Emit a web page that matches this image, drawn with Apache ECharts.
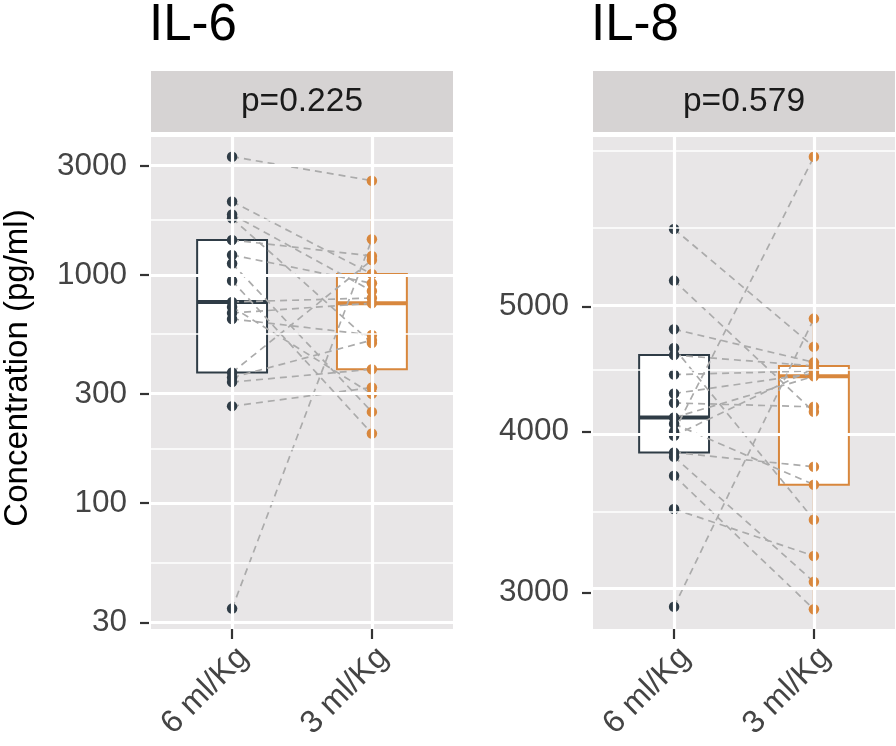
<!DOCTYPE html>
<html><head><meta charset="utf-8">
<script src="https://cdn.jsdelivr.net/npm/echarts@6/dist/echarts.min.js"></script>
<style>html,body{margin:0;padding:0;background:#fff}#c{width:896px;height:746px}</style>
</head><body><div id="c"></div>
<script>
// ---- data ----
const groups = ['6 ml/Kg', '3 ml/Kg'];
const panelTitles = ['IL-6', 'IL-8'];
const pLabels = ['p=0.225', 'p=0.579'];
const il6Ticks = [30, 100, 300, 1000, 3000];
const il8Ticks = [3000, 4000, 5000];
// values paired by patient (index i in both arrays = same patient)
const il6_6 = [3296, 2097, 34.5, 266, 1840, 1770, 1422, 1222, 1122, 943, 761, 723, 681, 641, 373.5, 355, 339];
const il6_3 = [2587, 1009, 1432, 321, 850, 503, 1210, 919, 251, 202, 792, 301, 751, 545, 1162, 518, 386];
const il8_6 = [5744, 5238, 2924, 3998, 4802, 4643, 4585, 4428, 4281, 4209, 4101, 4055, 3969, 3853, 3823, 3696, 3482];
const il8_3 = [4653, 4143, 4894, 6536, 4526, 3416, 4497, 4457, 4437, 4180, 4414, 3637, 4477, 3755, 3057, 2911, 3202];

// ---- layout / style ----
const FONT = 'Liberation Sans, Arial, Helvetica, sans-serif';
const COLORS = ['#2F3C46', '#D8873D'];
const PANEL_BG = '#E8E6E7';
const STRIP_BG = '#D6D3D3';
const LOG = Math.log10;
const panels = [
  {v6: il6_6, v3: il6_3, ticks: il6Ticks, range: [28.08, 4020], left: 151},
  {v6: il8_6, v3: il8_3, ticks: il8Ticks, range: [2810, 6771], left: 593}
];
const GTOP = 137, GH = 492, GW = 302;

function boxStats(vals) {
  const a = vals.map(LOG).sort((p, q) => p - q);
  const qt = p => { const h = (a.length - 1) * p; const i = Math.floor(h); const f = h - i;
    return f ? a[i] + f * (a[i + 1] - a[i]) : a[i]; };
  const q1 = qt(0.25), md = qt(0.5), q3 = qt(0.75), iqr = q3 - q1;
  const lo = Math.min(...a.filter(v => v >= q1 - 1.5 * iqr));
  const hi = Math.max(...a.filter(v => v <= q3 + 1.5 * iqr));
  return [lo, q1, md, q3, hi];
}
function gridBreaks(ticks, range) {
  const b = ticks.map(LOG); const bd = b[1] - b[0];
  const lo = LOG(range[0]), hi = LOG(range[1]);
  const ext = b.slice();
  if (lo < b[0]) ext.unshift(b[0] - bd);
  if (hi > b[b.length - 1]) ext.push(b[b.length - 1] + bd);
  const minor = [];
  for (let i = 0; i < ext.length - 1; i++) minor.push((ext[i] + ext[i + 1]) / 2);
  ext.forEach(v => { if (!b.some(x => Math.abs(x - v) < 1e-9)) minor.push(v); });
  return {major: b, minor: minor.filter(v => v > lo && v < hi)};
}

const grid = [], xAxis = [], yAxis = [], series = [], graphic = [];
panels.forEach((p, i) => {
  grid.push({left: p.left, top: GTOP, width: GW, height: GH, show: true, backgroundColor: PANEL_BG, borderWidth: 0});
  xAxis.push({type: 'value', gridIndex: i, min: 0.42, max: 2.58,
    axisLine: {show: false}, splitLine: {show: false},
    axisTick: {show: true, customValues: [1, 2], length: 10, lineStyle: {color: '#333', width: 2.2}},
    axisLabel: {customValues: [1, 2], formatter: v => groups[Math.round(v) - 1], rotate: 45,
      verticalAlign: 'top', fontSize: 32, color: '#444444', margin: 12, fontFamily: FONT}});
  const tv = p.ticks.map(LOG);
  yAxis.push({type: 'value', gridIndex: i, min: LOG(p.range[0]), max: LOG(p.range[1]), offset: 2,
    axisLine: {show: false}, splitLine: {show: false},
    axisTick: {show: true, customValues: tv, length: 9, lineStyle: {color: '#333', width: 2.2}},
    axisLabel: {customValues: tv, formatter: v => String(Math.round(Math.pow(10, v))),
      fontSize: 31.5, color: '#444444', margin: 22, fontFamily: FONT}});
  const gb = gridBreaks(p.ticks, p.range);
  series.push({type: 'line', xAxisIndex: i, yAxisIndex: i, data: [], z: 1, silent: true,
    markLine: {silent: true, symbol: 'none', animation: false, label: {show: false},
      lineStyle: {color: '#FFFFFF', type: 'solid'}, emphasis: {disabled: true},
      data: [
        ...gb.minor.map(v => ({yAxis: v, lineStyle: {width: 1.6, color: '#fff', type: 'solid'}})),
        ...gb.major.map(v => ({yAxis: v, lineStyle: {width: 3, color: '#fff', type: 'solid'}})),
        {xAxis: 1, lineStyle: {width: 3.2, color: '#fff', type: 'solid'}},
        {xAxis: 2, lineStyle: {width: 3.2, color: '#fff', type: 'solid'}}
      ]}});
  // boxes
  const boxes = [[1, ...boxStats(p.v6)], [2, ...boxStats(p.v3)]];
  series.push({type: 'custom', xAxisIndex: i, yAxisIndex: i, z: 2, silent: true,
    encode: {x: 0, y: [1, 2, 3, 4, 5]}, data: boxes,
    renderItem: (params, api) => {
      const x = api.value(0), c = COLORS[params.dataIndex];
      const P = (dx, v) => api.coord([x + dx, v]);
      const lo = P(0, api.value(1)), q1 = P(0, api.value(2)), q3 = P(0, api.value(4)), hi = P(0, api.value(5));
      const tl = P(-0.25, api.value(4)), br = P(0.25, api.value(2));
      const ml = P(-0.25, api.value(3)), mr = P(0.25, api.value(3));
      return {type: 'group', children: [
        {type: 'line', shape: {x1: hi[0], y1: hi[1], x2: q3[0], y2: q3[1]}, style: {stroke: c, lineWidth: 2.2}},
        {type: 'line', shape: {x1: lo[0], y1: lo[1], x2: q1[0], y2: q1[1]}, style: {stroke: c, lineWidth: 2.2}},
        {type: 'rect', shape: {x: tl[0], y: tl[1], width: br[0] - tl[0], height: br[1] - tl[1]}, style: {fill: '#FFFFFF', stroke: c, lineWidth: 2}},
        {type: 'line', shape: {x1: ml[0], y1: ml[1], x2: mr[0], y2: mr[1]}, style: {stroke: c, lineWidth: 4}}
      ]};
    }});
  // paired dashed lines
  series.push({type: 'lines', coordinateSystem: 'cartesian2d', xAxisIndex: i, yAxisIndex: i, z: 3, silent: true,
    lineStyle: {color: '#ABABAB', width: 1.7, type: [7, 5], opacity: 1},
    data: p.v6.map((v, k) => ({coords: [[1, LOG(v)], [2, LOG(p.v3[k])]]}))});
  // points
  [p.v6, p.v3].forEach((arr, g) => {
    series.push({type: 'scatter', xAxisIndex: i, yAxisIndex: i, z: 4, silent: true,
      symbolSize: 10.5, itemStyle: {color: COLORS[g], opacity: 1},
      data: arr.map(v => [g + 1, LOG(v)])});
  });
  // title + strip
  graphic.push({type: 'text', x: p.left - 2, y: 26, style: {text: panelTitles[i], font: '51px ' + FONT, fill: '#000',
    textAlign: 'left', textVerticalAlign: 'middle', align: 'left', verticalAlign: 'middle'}});
  graphic.push({type: 'rect', shape: {x: p.left, y: 71, width: GW, height: 61}, style: {fill: STRIP_BG}});
  graphic.push({type: 'text', x: p.left + GW / 2, y: 102, style: {text: pLabels[i], font: '33.5px ' + FONT, fill: '#1A1A1A',
    textAlign: 'center', textVerticalAlign: 'middle', align: 'center', verticalAlign: 'middle'}});
});
graphic.push({type: 'text', x: 18, y: 368, rotation: Math.PI / 2,
  style: {text: 'Concentration (pg/ml)', font: '33px ' + FONT, fill: '#000',
    textAlign: 'center', textVerticalAlign: 'middle', align: 'center', verticalAlign: 'middle'}});

const chart = echarts.init(document.getElementById('c'), null, {renderer: 'canvas'});
chart.setOption({animation: false, backgroundColor: '#FFFFFF', textStyle: {fontFamily: FONT},
  grid, xAxis, yAxis, series, graphic});
</script></body></html>
